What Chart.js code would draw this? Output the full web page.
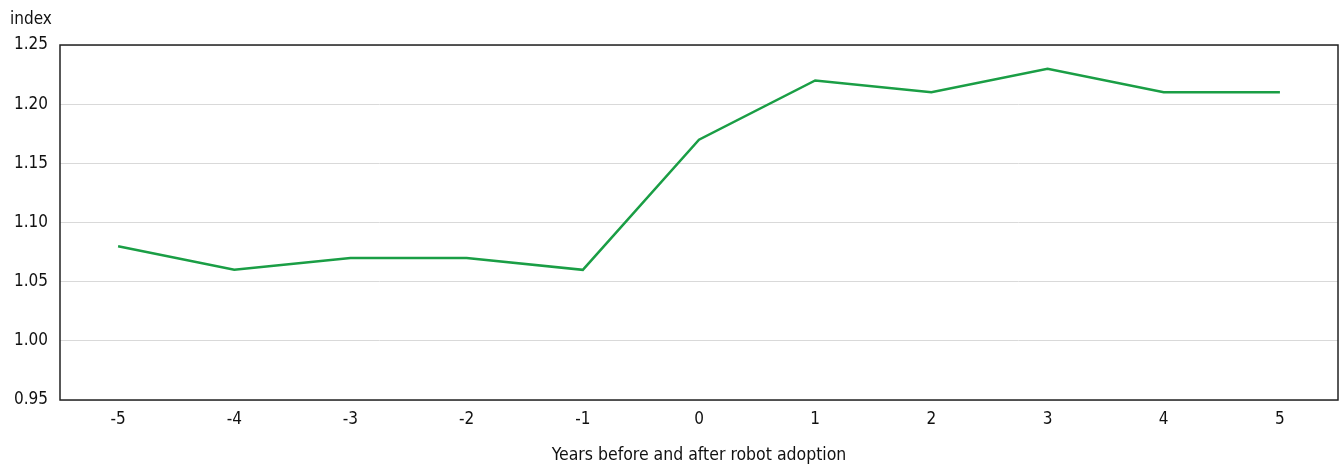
<!DOCTYPE html>
<html>
<head>
<meta charset="utf-8">
<script src="https://cdn.jsdelivr.net/npm/chart.js@4"></script>
<style>
  html, body { margin: 0; padding: 0; background: #fff; }
  #wrap { width: 1340px; height: 464px; }
</style>
</head>
<body>
<div id="wrap"><canvas id="chart" width="1340" height="464"></canvas></div>
<script>
const years = ["-5", "-4", "-3", "-2", "-1", "0", "1", "2", "3", "4", "5"];
const indexValues = [1.08, 1.06, 1.07, 1.07, 1.06, 1.17, 1.22, 1.21, 1.23, 1.21, 1.21];
const yTicks = [0.95, 1.00, 1.05, 1.10, 1.15, 1.20, 1.25];

const FONT = "'Liberation Sans Narrow', 'DejaVu Sans Condensed', 'Roboto', sans-serif";

// box around plot area
const frame = {
  id: "frame",
  afterDraw(chart) {
    const { ctx, chartArea: a } = chart;
    ctx.save();
    ctx.strokeStyle = "#222";
    ctx.lineWidth = 1.5;
    ctx.strokeRect(a.left, a.top, a.right - a.left, a.bottom - a.top);
    ctx.restore();
  }
};

new Chart(document.getElementById("chart").getContext("2d"), {
  type: "line",
  data: {
    labels: years,
    datasets: [{
      data: indexValues,
      borderColor: "#1a9e45",
      borderWidth: 2.5,
      pointRadius: 0,
      tension: 0,
      fill: false
    }]
  },
  options: {
    responsive: false,
    animation: false,
    layout: { padding: { left: 10, right: 2, top: 0, bottom: 0 } },
    plugins: {
      legend: { display: false },
      tooltip: { enabled: false },
      title: {
        display: true,
        text: "index",
        align: "start",
        color: "#111",
        font: { family: FONT, size: 17, weight: "normal" },
        padding: { top: 9, bottom: 15.6 }
      }
    },
    scales: {
      x: {
        offset: true,
        grid: { display: false, drawTicks: false },
        border: { display: false },
        ticks: { color: "#111", font: { family: FONT, size: 17 }, padding: 9 },
        title: {
          display: true,
          text: "Years before and after robot adoption",
          color: "#111",
          font: { family: FONT, size: 17.5, lineHeight: 1 },
          padding: { top: 15, bottom: 0 }
        },
        afterFit: s => { s.height = 64; }
      },
      y: {
        min: 0.95,
        max: 1.25,
        afterBuildTicks: s => { s.ticks = yTicks.map(v => ({ value: v })); },
        grid: { color: "#d9d9d9", lineWidth: 1, drawTicks: false },
        border: { display: false },
        ticks: {
          color: "#111",
          font: { family: FONT, size: 17 },
          padding: 12,
          callback: v => Number(v).toFixed(2)
        },
        afterFit: s => { s.width = 50; }
      }
    }
  },
  plugins: [frame]
});
</script>
</body>
</html>
